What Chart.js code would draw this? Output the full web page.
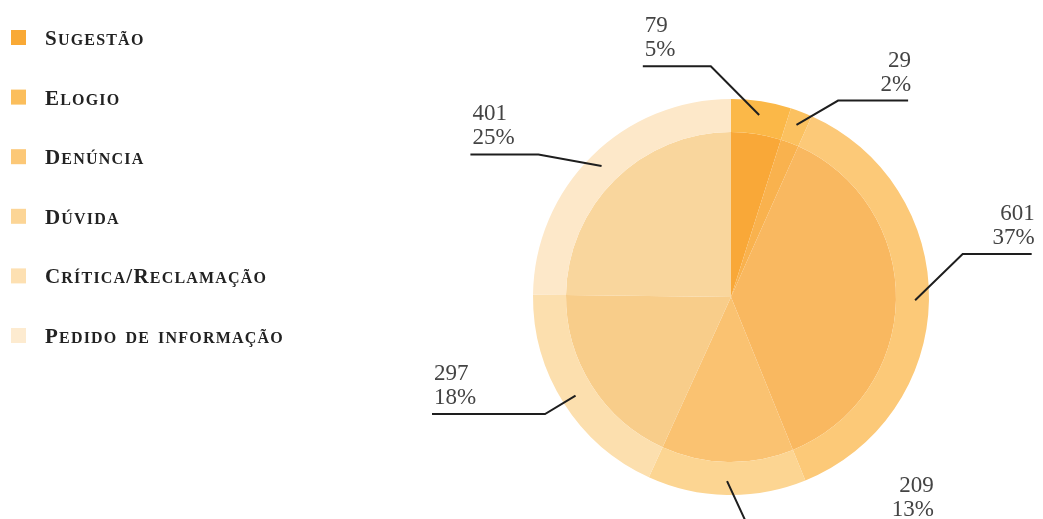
<!DOCTYPE html>
<html>
<head>
<meta charset="utf-8">
<title>Manifestações por tipo</title>
<script src="https://cdn.jsdelivr.net/npm/chart.js@4.4.1/dist/chart.umd.min.js"></script>
<style>
    html, body { margin: 0; padding: 0; background: #fff; }
    #wrap { width: 1043px; height: 519px; position: relative; overflow: hidden; }
</style>
</head>
<body>
<div id="wrap"><canvas id="tiposChart" width="1043" height="519"></canvas></div>
<script>
// Data
var categories = ['Sugestão', 'Elogio', 'Denúncia', 'Dúvida', 'Crítica/Reclamação', 'Pedido de informação'];
var counts = [79, 29, 601, 209, 297, 401];

// Colours: outer ring, inner disc, legend squares
var ringColors = ['#FBB848', '#FBC160', '#FCC978', '#FCD592', '#FCDFAE', '#FDE8C9'];
var discColors = ['#F9A838', '#F9B24E', '#F9B860', '#FAC271', '#F8CD8A', '#F9D69D'];
var legendColors = ['#F9A935', '#FBBE5C', '#FCC877', '#FCD596', '#FDE0B2', '#FDEBD0'];

var total = counts.reduce(function(a, b) { return a + b; }, 0);
var percentLabels = counts.map(function(c) { return Math.round(c / total * 100) + '%'; });

// Where each callout bends (angle clockwise from top, radius as a multiple of the pie radius)
var calloutLayout = [
    {angle: -5,    r: 1.17, len: 68,  side: -1},
    {angle: 28.6,  r: 1.13, len: 70,  side: 1},
    {angle: 79.5,  r: 1.19, len: 69,  side: 1},
    {angle: 175.8, r: 1.16, len: 183, side: 1},
    {angle: 237.8, r: 1.11, len: 113, side: -1},
    {angle: 306.5, r: 1.21, len: 68,  side: -1}
];

/**
 * Draws the value / percentage callouts with leader lines.
 */
var calloutPlugin = {
    id: 'callouts',
    afterDatasetsDraw: function(chart) {
        var ctx = chart.ctx;
        var meta = chart.getDatasetMeta(0);
        ctx.save();
        meta.data.forEach(function(arc, i) {
            var lay = calloutLayout[i];
            var R = arc.outerRadius;
            var mid = (arc.startAngle + arc.endAngle) / 2;
            var sx = arc.x + Math.cos(mid) * R * 0.93;
            var sy = arc.y + Math.sin(mid) * R * 0.93;
            var a = (lay.angle - 90) * Math.PI / 180;
            var bx = arc.x + Math.cos(a) * R * lay.r;
            var by = arc.y + Math.sin(a) * R * lay.r;
            var ex = bx + lay.side * lay.len;

            ctx.strokeStyle = '#1e1e1e';
            ctx.lineWidth = 2;
            ctx.beginPath();
            ctx.moveTo(sx, sy);
            ctx.lineTo(bx, by);
            ctx.lineTo(ex, by);
            ctx.stroke();

            ctx.fillStyle = '#444';
            ctx.font = '23px "Liberation Serif", serif';
            ctx.textBaseline = 'alphabetic';
            ctx.textAlign = lay.side < 0 ? 'left' : 'right';
            var tx = lay.side < 0 ? ex + 2 : ex + 3;
            ctx.fillText(String(counts[i]), tx, by - 34);
            ctx.fillText(percentLabels[i], tx, by - 10);
        });
        ctx.restore();
    }
};

// Draw text in small caps: capitals at full size, lowercase as smaller capitals
function drawSmallCaps(ctx, text, x, y) {
    var capFont = 'bold 21px "Liberation Serif", serif';
    var smallFont = 'bold 16px "Liberation Serif", serif';
    var spacing = 1.2;
    for (var k = 0; k < text.length; k++) {
        var ch = text[k];
        if (ch === ' ') {
            x += 8;
            continue;
        }
        var isCap = ch !== ch.toLowerCase() || ch === '/';
        ctx.font = isCap ? capFont : smallFont;
        var glyph = ch.toUpperCase();
        ctx.fillText(glyph, x, y);
        x += ctx.measureText(glyph).width + spacing;
    }
}

/**
 * Draws the legend column on the left.
 */
var legendPlugin = {
    id: 'sideLegend',
    afterDraw: function(chart) {
        var ctx = chart.ctx;
        ctx.save();
        ctx.textAlign = 'left';
        ctx.textBaseline = 'alphabetic';
        categories.forEach(function(name, i) {
            var base = 45 + i * 59.6;
            ctx.fillStyle = legendColors[i];
            ctx.fillRect(11, base - 15, 15, 15);
            ctx.fillStyle = '#222';
            drawSmallCaps(ctx, name, 45, base);
        });
        ctx.restore();
    }
};

new Chart(document.getElementById('tiposChart'), {
    type: 'doughnut',
    data: {
        labels: categories,
        datasets: [
            {
                label: 'Anel',
                data: counts,
                backgroundColor: ringColors,
                borderWidth: 0,
                weight: 33
            },
            {
                label: 'Disco',
                data: counts,
                backgroundColor: discColors,
                borderWidth: 0,
                weight: 165
            }
        ]
    },
    options: {
        responsive: false,
        animation: false,
        cutout: 0,
        layout: {padding: {left: 533, right: 114, top: 99, bottom: 24}},
        plugins: {
            legend: {display: false},
            tooltip: {enabled: false}
        }
    },
    plugins: [calloutPlugin, legendPlugin]
});
</script>
</body>
</html>
